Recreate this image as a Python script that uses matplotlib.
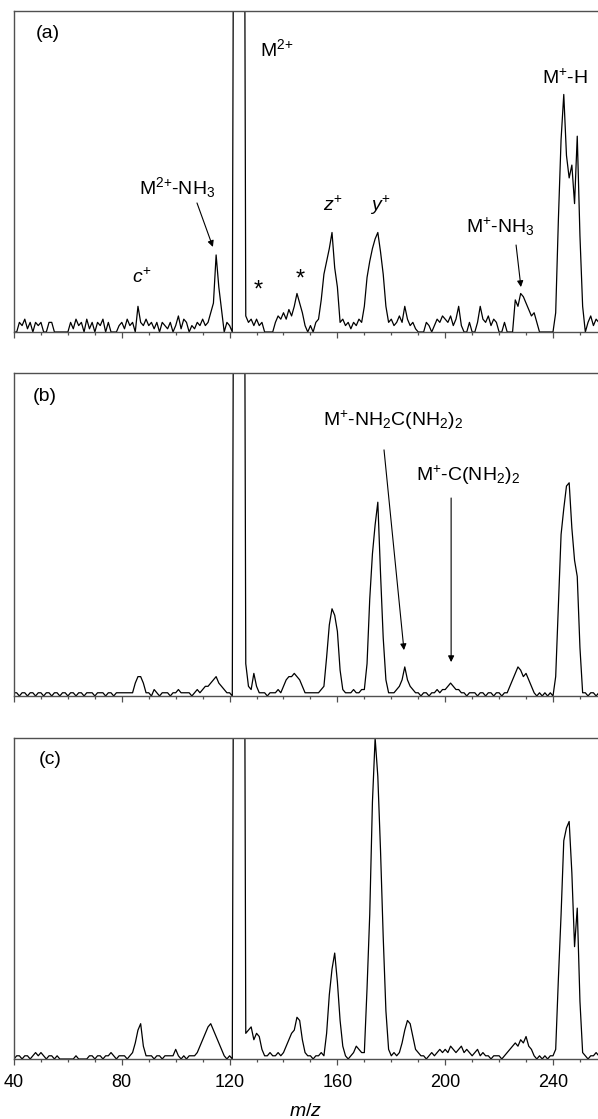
import numpy as np
import matplotlib.pyplot as plt

plt.rcParams['font.family'] = ['Liberation Sans', 'DejaVu Sans']
plt.rcParams['mathtext.fontset'] = 'custom'
plt.rcParams['mathtext.rm'] = 'Liberation Sans'
plt.rcParams['mathtext.it'] = 'Liberation Sans:italic'

# m/z sample grid, one point per unit
mz = list(range(40, 258))

# relative intensity (% of panel height); M2+ runs off scale
int_a = [
    0, 0, 3, 2, 4, 1, 3, 0, 3, 2,
    3, 0, 0, 3, 3, 0, 0, 0, 0, 0,
    0, 3, 1, 4, 2, 3, 0, 4, 1, 3,
    0, 3, 2, 4, 0, 3, 0, 0, 0, 2,
    3, 1, 4, 2, 3, 0, 8, 3, 2, 4,
    2, 3, 1, 3, 0, 3, 2, 1, 3, 0,
    2, 5, 1, 4, 3, 0, 2, 1, 3, 2,
    4, 2, 3, 6, 9, 24, 14, 7, 0, 3,
    2, 0, 300, 300, 300, 300, 5, 3, 4, 2,
    4, 2, 3, 0, 0, 0, 0, 3, 5, 4,
    6, 4, 7, 5, 8, 12, 9, 6, 2, 0,
    2, 0, 3, 4, 10, 18, 22, 26, 31, 20,
    14, 3, 4, 2, 3, 1, 3, 2, 4, 3,
    8, 17, 22, 26, 29, 31, 25, 18, 8, 3,
    4, 2, 3, 5, 3, 8, 4, 2, 3, 1,
    0, 0, 0, 3, 2, 0, 2, 4, 3, 5,
    4, 3, 5, 2, 4, 8, 2, 0, 0, 3,
    0, 0, 3, 8, 4, 3, 5, 2, 4, 3,
    0, 0, 3, 0, 0, 0, 10, 8, 12, 11,
    9, 7, 5, 6, 3, 0, 0, 0, 0, 0,
    0, 6, 35, 60, 74, 55, 48, 52, 40, 61,
    30, 8, 0, 3, 5, 2, 4, 3,
]

int_b = [
    1, 1, 0, 1, 1, 0, 1, 1, 0, 1,
    1, 0, 1, 1, 0, 1, 1, 0, 1, 1,
    0, 1, 1, 0, 1, 1, 0, 1, 1, 1,
    0, 1, 1, 1, 0, 1, 1, 0, 1, 1,
    1, 1, 1, 1, 1, 4, 6, 6, 4, 1,
    1, 0, 2, 1, 0, 1, 1, 1, 0, 1,
    1, 2, 1, 1, 1, 1, 0, 1, 2, 1,
    2, 3, 3, 4, 5, 6, 4, 3, 2, 1,
    1, 0, 300, 300, 300, 300, 10, 3, 2, 7,
    3, 1, 1, 1, 0, 1, 1, 1, 2, 1,
    3, 5, 6, 6, 7, 6, 5, 3, 1, 1,
    1, 1, 1, 1, 2, 3, 12, 22, 27, 25,
    20, 8, 2, 1, 1, 1, 2, 1, 1, 2,
    2, 10, 30, 44, 53, 60, 38, 18, 5, 1,
    1, 1, 2, 3, 5, 9, 5, 3, 2, 1,
    1, 0, 1, 1, 0, 1, 1, 2, 1, 2,
    2, 3, 4, 3, 2, 2, 1, 1, 0, 1,
    1, 1, 0, 1, 1, 0, 1, 1, 0, 1,
    1, 0, 1, 1, 3, 5, 7, 9, 8, 6,
    7, 5, 3, 1, 0, 1, 0, 1, 0, 1,
    0, 6, 28, 50, 58, 65, 66, 52, 42, 37,
    15, 1, 1, 0, 1, 1, 0, 1,
]

int_c = [
    0, 1, 1, 0, 1, 1, 0, 1, 2, 1,
    2, 1, 0, 1, 1, 0, 1, 0, 0, 0,
    0, 0, 0, 1, 0, 0, 0, 0, 1, 1,
    0, 1, 1, 0, 1, 1, 2, 1, 0, 1,
    1, 1, 0, 1, 2, 5, 9, 11, 4, 1,
    1, 1, 0, 1, 1, 0, 1, 1, 1, 1,
    3, 1, 0, 1, 0, 1, 1, 1, 2, 4,
    6, 8, 10, 11, 9, 7, 5, 3, 1, 0,
    1, 0, 300, 300, 300, 300, 8, 9, 10, 6,
    8, 7, 3, 1, 1, 2, 1, 1, 2, 1,
    2, 4, 6, 8, 9, 13, 12, 6, 2, 1,
    1, 0, 1, 1, 2, 1, 8, 20, 28, 33,
    24, 12, 4, 1, 0, 1, 2, 4, 3, 2,
    2, 22, 45, 80, 100, 88, 65, 38, 15, 3,
    1, 2, 1, 2, 5, 9, 12, 11, 7, 3,
    2, 1, 1, 0, 1, 2, 1, 2, 3, 2,
    3, 2, 4, 3, 2, 3, 4, 2, 3, 2,
    1, 2, 3, 1, 2, 1, 1, 0, 1, 1,
    1, 0, 1, 2, 3, 4, 5, 4, 6, 5,
    7, 4, 3, 1, 0, 1, 0, 1, 0, 1,
    1, 3, 25, 45, 68, 72, 74, 58, 35, 47,
    18, 2, 1, 0, 1, 1, 2, 1,
]

xticks_major = [40, 80, 120, 160, 200, 240]
spine_col = '#505050'

fig = plt.figure(figsize=(5.98, 11.19), dpi=100)
left = 14 / 598
boxes = [(332, 321), (696, 323), (1059, 321)]
axes = []
for bot, h in boxes:
    ax = fig.add_axes([left, 1 - bot / 1119, 1 - left, h / 1119])
    axes.append(ax)

for ax, yy in zip(axes, [int_a, int_b, int_c]):
    ax.plot(mz, yy, color='black', lw=0.9)
    ax.set_xlim(40, 256.7)
    ax.set_ylim(0, 100)
    ax.set_yticks([])
    ax.spines['right'].set_visible(False)
    for s in ['left', 'top', 'bottom']:
        ax.spines[s].set_color(spine_col)
        ax.spines[s].set_linewidth(1.0)
    ax.set_xticks(xticks_major)
    ax.set_xticks(range(40, 260, 10), minor=True)
    ax.tick_params(axis='x', which='major', direction='out', length=4.5,
                   width=0.9, color=spine_col, labelsize=13, pad=6)
    ax.tick_params(axis='x', which='minor', direction='out', length=2.5,
                   width=0.9, color=spine_col)
    if ax is not axes[2]:
        ax.set_xticklabels([])

axa, axb, axc = axes
fs = 14
arw = dict(arrowstyle='-|>', color='black', lw=0.8, mutation_scale=9,
           shrinkA=0, shrinkB=0)

# panel (a)
axa.text(52.6, 93, '(a)', fontsize=fs, ha='center', va='center')
axa.text(137.6, 88, r'M$^{2{+}}$', fontsize=fs, ha='center', va='center')
axa.text(100.5, 45, r'M$^{2{+}}$-NH$_3$', fontsize=fs, ha='center', va='center')
axa.annotate('', xy=(113.8, 26.5), xytext=(107.9, 40.2), arrowprops=arw)
axa.text(87.5, 17, r'$c^{+}$', fontsize=fs, ha='center', va='center')
axa.text(130.5, 13, '*', fontsize=fs + 3, ha='center', va='center')
axa.text(146.1, 16.5, '*', fontsize=fs + 3, ha='center', va='center')
axa.text(158.4, 39.6, r'$z^{+}$', fontsize=fs, ha='center', va='center')
axa.text(175.8, 39.6, r'$y^{+}$', fontsize=fs, ha='center', va='center')
axa.text(220.3, 32.7, r'M$^{+}$-NH$_3$', fontsize=fs, ha='center', va='center')
axa.annotate('', xy=(228.1, 14), xytext=(226.3, 27.1), arrowprops=arw)
axa.text(244.5, 79, r'M$^{+}$-H', fontsize=fs, ha='center', va='center')

# panel (b)
axb.text(51.5, 92.6, '(b)', fontsize=fs, ha='center', va='center')
axb.text(180.6, 85.4, r'M$^{+}$-NH$_2$C(NH$_2$)$_2$', fontsize=fs,
         ha='center', va='center')
axb.annotate('', xy=(184.7, 14.2), xytext=(177.3, 76.2), arrowprops=arw)
axb.text(208.5, 68.4, r'M$^{+}$-C(NH$_2$)$_2$', fontsize=fs,
         ha='center', va='center')
axb.annotate('', xy=(202.2, 10.5), xytext=(202.2, 61.3), arrowprops=arw)

# panel (c)
axc.text(53.4, 93.2, '(c)', fontsize=fs, ha='center', va='center')
axc.set_xlabel(r'$m/z$', fontsize=14, labelpad=9)

fig.savefig('out.png', dpi=100)
